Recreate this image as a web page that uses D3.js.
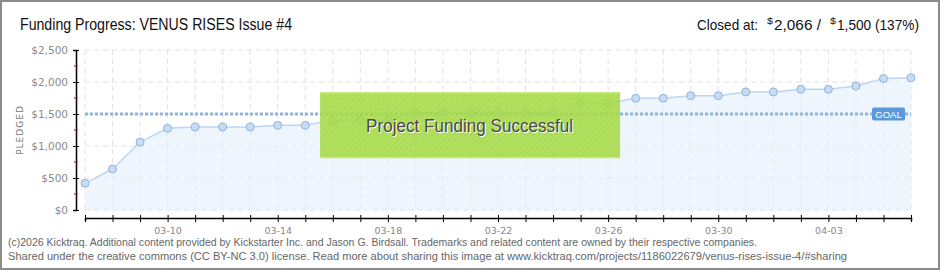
<!DOCTYPE html>
<html>
<head>
<meta charset="utf-8">
<script src="https://cdn.jsdelivr.net/npm/d3@7"></script>
<style>
  html, body { margin: 0; padding: 0; background: #fff; }
  svg { display: block; }
</style>
</head>
<body>
<svg id="chart"></svg>
<script>
'use strict'

const width = 940
const height = 270

// pledged total per day
const days = ['03-07', '03-08', '03-09', '03-10', '03-11', '03-12', '03-13', '03-14',
  '03-15', '03-16', '03-17', '03-18', '03-19', '03-20', '03-21', '03-22', '03-23',
  '03-24', '03-25', '03-26', '03-27', '03-28', '03-29', '03-30', '03-31', '04-01',
  '04-02', '04-03', '04-04', '04-05', '04-06']
const pledged = [417, 640, 1062, 1276, 1297, 1297, 1297, 1323,
  1323, 1401, 1401, 1401, 1526, 1526, 1526, 1526, 1526,
  1526, 1667, 1667, 1745, 1745, 1786, 1786, 1844, 1844,
  1886, 1886, 1937, 2055, 2066]
const labelDays = ['03-10', '03-14', '03-18', '03-22', '03-26', '03-30', '04-03']
const yTicks = [0, 500, 1000, 1500, 2000, 2500]
const yMinorTicks = [250, 750, 1250, 1750, 2250]
const goal = 1500

const parse = d3.utcParse('%Y-%m-%d')
const data = days.map((d, i) => ({ date: parse('2024-' + d), day: d, value: pledged[i] }))

const svg = d3.select('#chart')
  .attr('width', width)
  .attr('height', height)
  .attr('font-family', '"Liberation Sans", sans-serif')

// frame
svg.append('rect')
  .attr('x', 1).attr('y', 1)
  .attr('width', width - 2).attr('height', height - 2)
  .attr('fill', '#fff')
  .attr('stroke', '#8c8c8c')
  .attr('stroke-width', 2)

const x = d3.scaleUtc()
  .domain(d3.extent(data, d => d.date))
  .range([85, 911])

const y = d3.scaleLinear()
  .domain([0, 2500])
  .range([210, 50])

// grid
const grid = svg.append('g')
  .attr('stroke', '#e2e2e2')
  .attr('stroke-dasharray', '5,4')
grid.selectAll('.hg')
  .data(yTicks)
  .enter().append('line')
  .attr('x1', 85).attr('x2', 911)
  .attr('y1', d => y(d)).attr('y2', d => y(d))
grid.selectAll('.vg')
  .data(data)
  .enter().append('line')
  .attr('x1', d => x(d.date)).attr('x2', d => x(d.date))
  .attr('y1', y(2500)).attr('y2', y(0))

// area + line
const area = d3.area()
  .x(d => x(d.date))
  .y0(y(0))
  .y1(d => y(d.value))
svg.append('path')
  .datum(data)
  .attr('d', area)
  .attr('fill', '#e3eefb')
  .attr('fill-opacity', 0.6)

const line = d3.line()
  .x(d => x(d.date))
  .y(d => y(d.value))
svg.append('path')
  .datum(data)
  .attr('d', line)
  .attr('fill', 'none')
  .attr('stroke', '#bcd6f2')
  .attr('stroke-width', 1.5)

// goal line
svg.append('line')
  .attr('x1', 85).attr('x2', 911)
  .attr('y1', y(goal)).attr('y2', y(goal))
  .attr('stroke', '#8fb4df')
  .attr('stroke-width', 3)
  .attr('stroke-dasharray', '3,2')

// points
svg.append('g')
  .selectAll('circle')
  .data(data)
  .enter().append('circle')
  .attr('cx', d => x(d.date))
  .attr('cy', d => y(d.value))
  .attr('r', 4)
  .attr('fill', '#c4dcf6')
  .attr('stroke', '#97b3d3')
  .attr('stroke-width', 1)

// goal badge
const goalX = x(data[data.length - 1].date) - 39
svg.append('rect')
  .attr('x', goalX).attr('y', y(goal) - 6.5)
  .attr('width', 33).attr('height', 13)
  .attr('rx', 2)
  .attr('fill', '#5b99db')
svg.append('text')
  .attr('x', goalX + 16.5).attr('y', y(goal) + 3.5)
  .attr('text-anchor', 'middle')
  .attr('fill', '#fff')
  .attr('font-size', 9.5)
  .text('GOAL')

// success box
const defs = svg.append('defs')
const pat = defs.append('pattern')
  .attr('id', 'stripes')
  .attr('width', 4).attr('height', 4)
  .attr('patternUnits', 'userSpaceOnUse')
  .attr('patternTransform', 'rotate(45)')
pat.append('rect').attr('width', 4).attr('height', 4).attr('fill', '#a8dc48')
pat.append('rect').attr('width', 1).attr('height', 4).attr('fill', '#9fd43f')

const boxX = x(parse('2024-03-16')) - 12.7
const boxW = 300
svg.append('rect')
  .attr('x', boxX).attr('y', 92)
  .attr('width', boxW).attr('height', 66)
  .attr('fill', 'url(#stripes)')
  .attr('fill-opacity', 0.88)
svg.append('rect')
  .attr('x', boxX).attr('y', 92)
  .attr('width', boxW).attr('height', 1.5)
  .attr('fill', '#c4ea84')
svg.append('rect')
  .attr('x', boxX).attr('y', 157)
  .attr('width', boxW).attr('height', 1.5)
  .attr('fill', '#cfe3a8')
const boxText = [{ dx: 1, dy: 1, fill: '#fff' }, { dx: 0, dy: 0, fill: '#4a4a4a' }]
svg.append('g')
  .selectAll('text')
  .data(boxText)
  .enter().append('text')
  .attr('x', d => boxX + 46 + d.dx).attr('y', d => 132 + d.dy)
  .attr('font-size', 18)
  .attr('fill', d => d.fill)
  .attr('textLength', 207)
  .attr('lengthAdjust', 'spacingAndGlyphs')
  .text('Project Funding Successful')

// y axis
const yAxis = svg.append('g')
  .attr('transform', 'translate(76,0)')
  .call(d3.axisLeft(y)
    .tickValues(yTicks)
    .tickSize(3)
    .tickPadding(5)
    .tickFormat(d => '$' + d3.format(',')(d)))
yAxis.select('.domain').attr('stroke', '#000').attr('stroke-width', 1.5)
yAxis.selectAll('.tick line').attr('x1', -3).attr('x2', 3).attr('stroke', '#000')
yAxis.selectAll('.tick text')
  .attr('fill', '#8a8a8a')
  .attr('font-family', '"DejaVu Sans", sans-serif')
  .attr('font-size', 10.5)

svg.append('g')
  .selectAll('line')
  .data(yMinorTicks)
  .enter().append('line')
  .attr('x1', 74).attr('x2', 78)
  .attr('y1', d => y(d)).attr('y2', d => y(d))
  .attr('stroke', '#e00000')
  .attr('stroke-width', 1)

svg.append('text')
  .attr('transform', `translate(23,${y(1250)}) rotate(-90)`)
  .attr('text-anchor', 'middle')
  .attr('font-size', 9)
  .attr('letter-spacing', 1)
  .attr('fill', '#777')
  .attr('font-family', '"DejaVu Sans", sans-serif')
  .text('PLEDGED')

// x axis
const xAxis = svg.append('g')
  .attr('transform', 'translate(0,218)')
  .call(d3.axisBottom(x)
    .tickValues(data.map(d => d.date))
    .tickSize(3)
    .tickPadding(6)
    .tickFormat((d, i) => labelDays.includes(days[i]) ? days[i] : ''))
xAxis.select('.domain').attr('stroke', '#000').attr('stroke-width', 1.5)
xAxis.selectAll('.tick line').attr('y1', -3).attr('y2', 4).attr('stroke', '#000')
xAxis.selectAll('.tick text')
  .attr('font-size', 9.5)
  .attr('fill', '#888')
  .attr('font-family', '"DejaVu Sans", sans-serif')

// titles
svg.append('text')
  .attr('x', 20).attr('y', 30)
  .attr('font-size', 16)
  .attr('fill', '#111')
  .attr('textLength', 272)
  .attr('lengthAdjust', 'spacingAndGlyphs')
  .text('Funding Progress: VENUS RISES Issue #4')

// closed-at pieces: text, left x, width, small superscript?
const closedParts = [
  { t: 'Closed at:', x: 697, w: 61, sup: false },
  { t: '$', x: 767, w: 6, sup: true },
  { t: '2,066 /', x: 774, w: 47, sup: false },
  { t: '$', x: 830, w: 6, sup: true },
  { t: '1,500 (137%)', x: 837, w: 82, sup: false }
]
svg.append('g')
  .selectAll('text')
  .data(closedParts)
  .enter().append('text')
  .attr('x', d => d.x)
  .attr('y', d => d.sup ? 24 : 30)
  .attr('font-size', d => d.sup ? 9 : 15)
  .attr('fill', '#111')
  .attr('textLength', d => d.w)
  .attr('lengthAdjust', 'spacingAndGlyphs')
  .text(d => d.t)

// footer
const footer = [
  '(c)2026 Kicktraq. Additional content provided by Kickstarter Inc. and Jason G. Birdsall. Trademarks and related content are owned by their respective companies.',
  'Shared under the creative commons (CC BY-NC 3.0) license. Read more about sharing this image at www.kicktraq.com/projects/1186022679/venus-rises-issue-4/#sharing'
]
const footerLen = [749, 839]
svg.append('g')
  .selectAll('text')
  .data(footer)
  .enter().append('text')
  .attr('x', 8)
  .attr('y', (d, i) => 246 + i * 14)
  .attr('font-size', 10.5)
  .attr('fill', '#666')
  .attr('textLength', (d, i) => footerLen[i])
  .attr('lengthAdjust', 'spacingAndGlyphs')
  .text(d => d)
</script>
</body>
</html>
